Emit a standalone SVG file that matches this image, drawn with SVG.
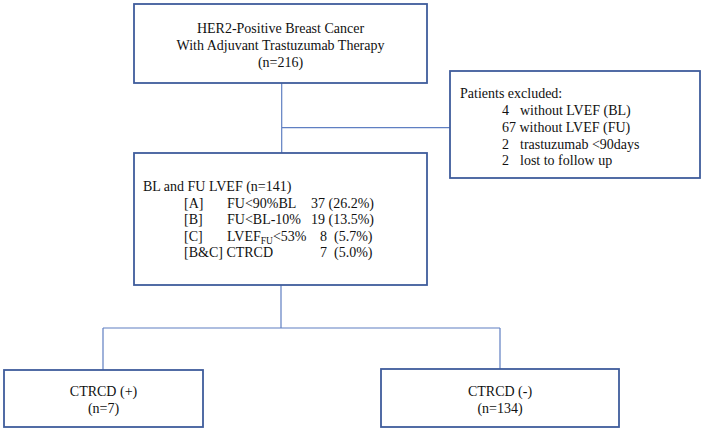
<svg xmlns="http://www.w3.org/2000/svg" width="708" height="432" viewBox="0 0 708 432">
<style>
.box{fill:#fff;stroke:#3f5c9c;stroke-width:1.8}
.con{fill:none;stroke:#5f7fc2;stroke-width:1.2}
text{font-family:"Liberation Serif","Times New Roman",serif;font-size:14px;fill:#111}
.c{text-anchor:middle}
.sub{font-size:9.5px}
</style>
<rect width="708" height="432" fill="#fff"/>
<g id="connectors">
<path class="con" d="M281.7 83 V127.7 M281.7 127.7 H450 M281.7 127.7 V153"/>
<path class="con" d="M281 285 V328 M103 328 H500 M103 328 V370 M500 328 V369"/>
</g>
<g id="top">
<rect class="box" x="134" y="4" width="293" height="79"/>
<text class="c" x="280.5" y="33">HER2-Positive Breast Cancer</text>
<text class="c" x="280.5" y="50">With Adjuvant Trastuzumab Therapy</text>
<text class="c" x="280.5" y="67">(n=216)</text>
</g>
<g id="excluded">
<rect class="box" x="450" y="71" width="250" height="107"/>
<text x="460" y="97.5">Patients excluded:</text>
<text x="502" y="114.5">4</text><text x="520" y="114.5">without LVEF (BL)</text>
<text x="502" y="131.5">67 without LVEF (FU)</text>
<text x="502" y="148.5">2</text><text x="520" y="148.5">trastuzumab &lt;90days</text>
<text x="502" y="165">2</text><text x="520" y="165">lost to follow up</text>
</g>
<g id="middle">
<rect class="box" x="134" y="153" width="293" height="132"/>
<text x="143" y="190.5">BL and FU LVEF (n=141)</text>
<text x="184" y="207.5">[A]</text><text x="227" y="207.5">FU&lt;90%BL</text><text x="311" y="207.5">37 (26.2%)</text>
<text x="184" y="224">[B]</text><text x="227" y="224">FU&lt;BL-10%</text><text x="311" y="224">19 (13.5%)</text>
<text x="184" y="240.5">[C]</text><text x="227" y="240.5">LVEF<tspan class="sub" dy="3">FU</tspan><tspan dy="-3">&lt;53%</tspan></text><text x="320" y="240.5">8</text><text x="334" y="240.5">(5.7%)</text>
<text x="184" y="257">[B&amp;C] CTRCD</text><text x="320" y="257">7</text><text x="334" y="257">(5.0%)</text>
</g>
<g id="ctrcd-pos">
<rect class="box" x="4" y="370" width="199" height="57"/>
<text class="c" x="103.5" y="396">CTRCD (+)</text>
<text class="c" x="103.5" y="413">(n=7)</text>
</g>
<g id="ctrcd-neg">
<rect class="box" x="381" y="369" width="238" height="58"/>
<text class="c" x="500" y="396">CTRCD (-)</text>
<text class="c" x="500" y="413">(n=134)</text>
</g>
</svg>
